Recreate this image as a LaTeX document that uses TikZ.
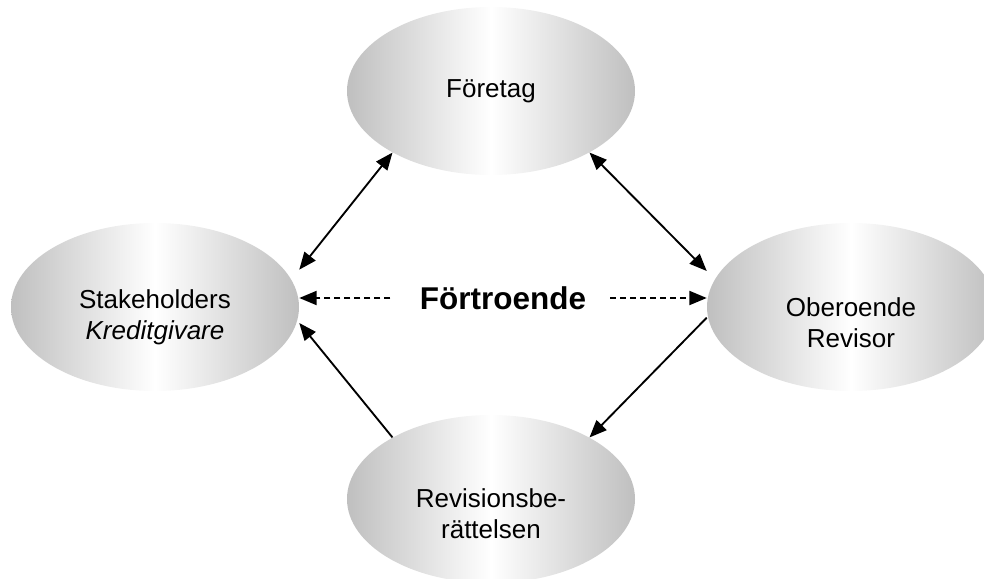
\documentclass[tikz,border=0pt]{standalone}
\usepackage{fontspec}
\setmainfont{Liberation Sans}
\usetikzlibrary{arrows.meta}
\usetikzlibrary{shapes.geometric}
\usetikzlibrary{positioning}

\begin{document}
\begin{tikzpicture}[x=0.75pt,y=-0.75pt,
  party/.style={ellipse,minimum width=216pt,minimum height=126pt,inner sep=0pt,
    left color=black!25,right color=black!25,middle color=white},
  partytext/.style={align=center,font=\fontsize{19.5}{23}\selectfont},
  link/.style={draw,line width=1.4pt,>={Triangle[length=13pt,width=10.5pt]}},
  trustlink/.style={link,dash pattern=on 4.5pt off 3pt}]

  \useasboundingbox (0,0) rectangle (984,578);

  \node [party,label={[partytext]center:Företag}] (foretag) at (491,91) {};
  \node [party,label={[partytext,yshift=-7.5pt]center:{Stakeholders\\\textit{Kreditgivare}}}] (stake) at (155,307) {};
  \node [party,label={[partytext,yshift=-12pt]center:{Oberoende\\Revisor}}] (revisor) at (851,307) {};
  \node [party,label={[partytext,yshift=-11pt]center:{Revisionsbe-\\rättelsen}}] (report) at (491,499) {};

  \node [inner sep=0pt,font=\bfseries\fontsize{23.6}{28}\selectfont] (trust) at (503,298) {Förtroende};

  \path
    (foretag.212) edge [link,<->] ([yshift=28pt]stake.east)
    (foretag.328) edge [link,<->] ([yshift=27pt]revisor.west);

  \path
    (report.148) edge [link,->] ([yshift=-12pt]stake.east)
    ([yshift=-8pt]revisor.west) edge [link,->] (report.32);

  \path
    (trust.west) edge [trustlink,->,shorten <=22pt] (trust.west -| stake.east)
    (trust.east) edge [trustlink,->,shorten <=18pt] (trust.east -| revisor.west);

\end{tikzpicture}
\end{document}
